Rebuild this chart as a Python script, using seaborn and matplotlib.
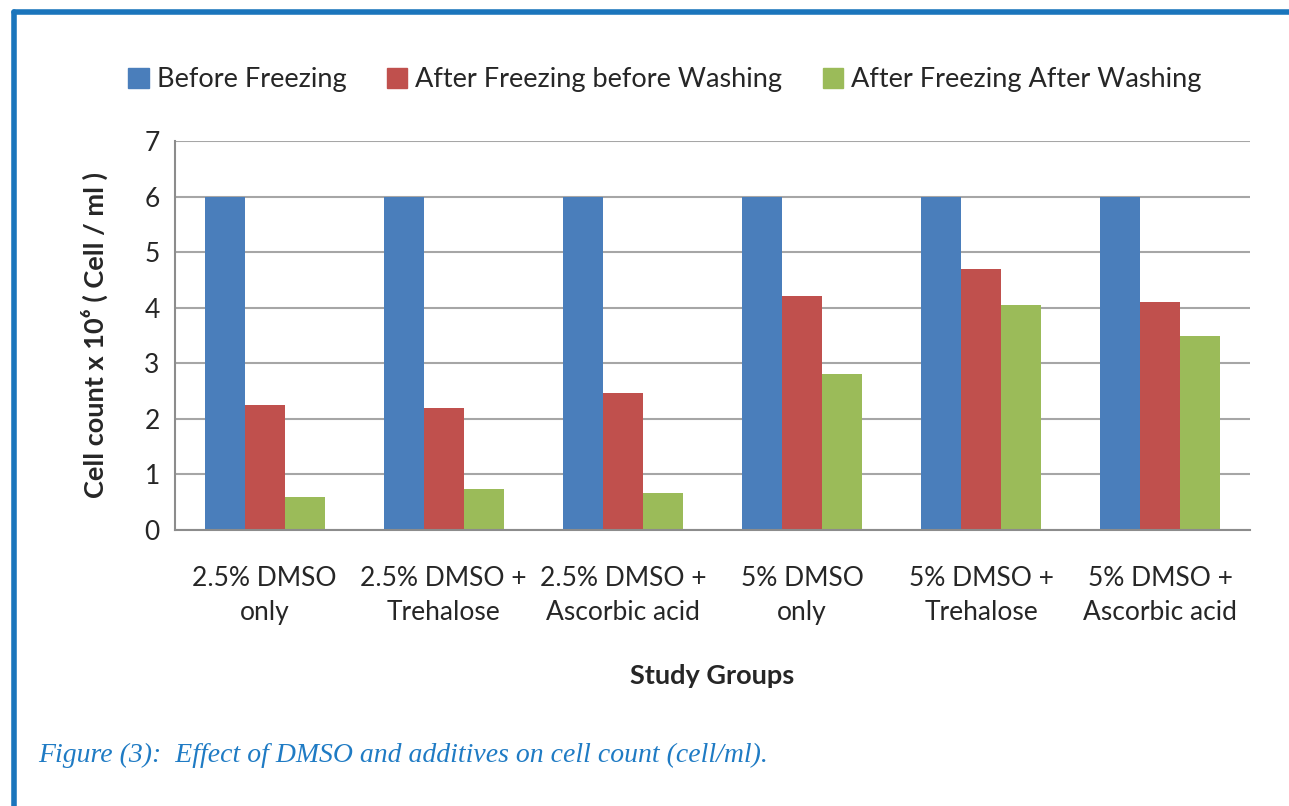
import matplotlib.pyplot as plt
import seaborn as sns
import pandas as pd
import numpy as np
from matplotlib.patches import Rectangle

groups = ['2.5% DMSO\nonly', '2.5% DMSO +\nTrehalose', '2.5% DMSO +\nAscorbic acid',
          '5% DMSO\nonly', '5% DMSO +\nTrehalose', '5% DMSO +\nAscorbic acid']
series = ['Before Freezing', 'After Freezing before Washing', 'After Freezing After Washing']
before_freezing = [6, 6, 6, 6, 6, 6]
after_before_washing = [2.25, 2.19, 2.46, 4.21, 4.70, 4.11]
after_after_washing = [0.59, 0.73, 0.66, 2.81, 4.04, 3.50]
colors = ['#4a7ebb', '#c0504d', '#9bbb59']

df = pd.DataFrame({
    'group': groups * 3,
    'series': np.repeat(series, len(groups)),
    'value': before_freezing + after_before_washing + after_after_washing,
})

sns.set_style('white')
plt.rcParams['font.family'] = ['Lato', 'DejaVu Sans']

fig = plt.figure(figsize=(12.89, 8.06), dpi=100)
ax = fig.add_axes([175 / 1289, 1 - 530 / 806, (1250 - 175) / 1289, (530 - 141) / 806])

sns.barplot(data=df, x='group', y='value', hue='series', palette=colors, saturation=1,
            width=0.67, gap=0, ax=ax, edgecolor='none', legend=False)

ax.set_ylim(0, 7)
ax.set_xlim(-0.5, 5.5)
ax.set_yticks(range(0, 8))
ax.yaxis.grid(True, color='#a6a6a6', linewidth=1.5)
ax.set_axisbelow(True)
for s in ['top', 'right']:
    ax.spines[s].set_visible(False)
for s in ['left', 'bottom']:
    ax.spines[s].set_color('#8c8c8c')
    ax.spines[s].set_linewidth(1.5)

# ticks at category boundaries, labels centred
ax.set_xticks(np.arange(-0.5, 6, 1), minor=True)
ax.tick_params(axis='x', which='minor', length=8, color='#8c8c8c', width=1.5, direction='out')
ax.tick_params(axis='x', which='major', length=0, pad=26, labelsize=19)
ax.tick_params(axis='y', length=6, color='#8c8c8c', width=1.5, direction='out', labelsize=19, pad=5)
ax.set_xticklabels(groups, linespacing=1.45)

ax.set_xlabel('Study Groups', fontsize=19.5, fontweight='bold', labelpad=28)
ax.set_ylabel('Cell count x 10⁶ ( Cell / ml )', fontsize=19.5, fontweight='bold', labelpad=26)

handles = [Rectangle((0, 0), 1, 1, color=c) for c in colors]
fig.legend(handles, series, loc='center', bbox_to_anchor=(665 / 1289, 1 - 80 / 806),
           ncol=3, frameon=False, fontsize=19.5, handlelength=0.75, handleheight=0.75,
           handletextpad=0.3, columnspacing=1.5)

# blue frame around the figure block
fig.add_artist(plt.Line2D([14 / 1289, 14 / 1289], [0, 1 - 12 / 806], color='#1a75bc', lw=4, transform=fig.transFigure))
fig.add_artist(plt.Line2D([14 / 1289, 1], [1 - 12 / 806, 1 - 12 / 806], color='#1a75bc', lw=4, transform=fig.transFigure))

fig.text(38 / 1289, 1 - 755 / 806, 'Figure (3):  Effect of DMSO and additives on cell count (cell/ml).',
         fontsize=20, style='italic', family='Liberation Serif', color='#1f7bc4', va='center')

plt.savefig('out.png', dpi=100)
